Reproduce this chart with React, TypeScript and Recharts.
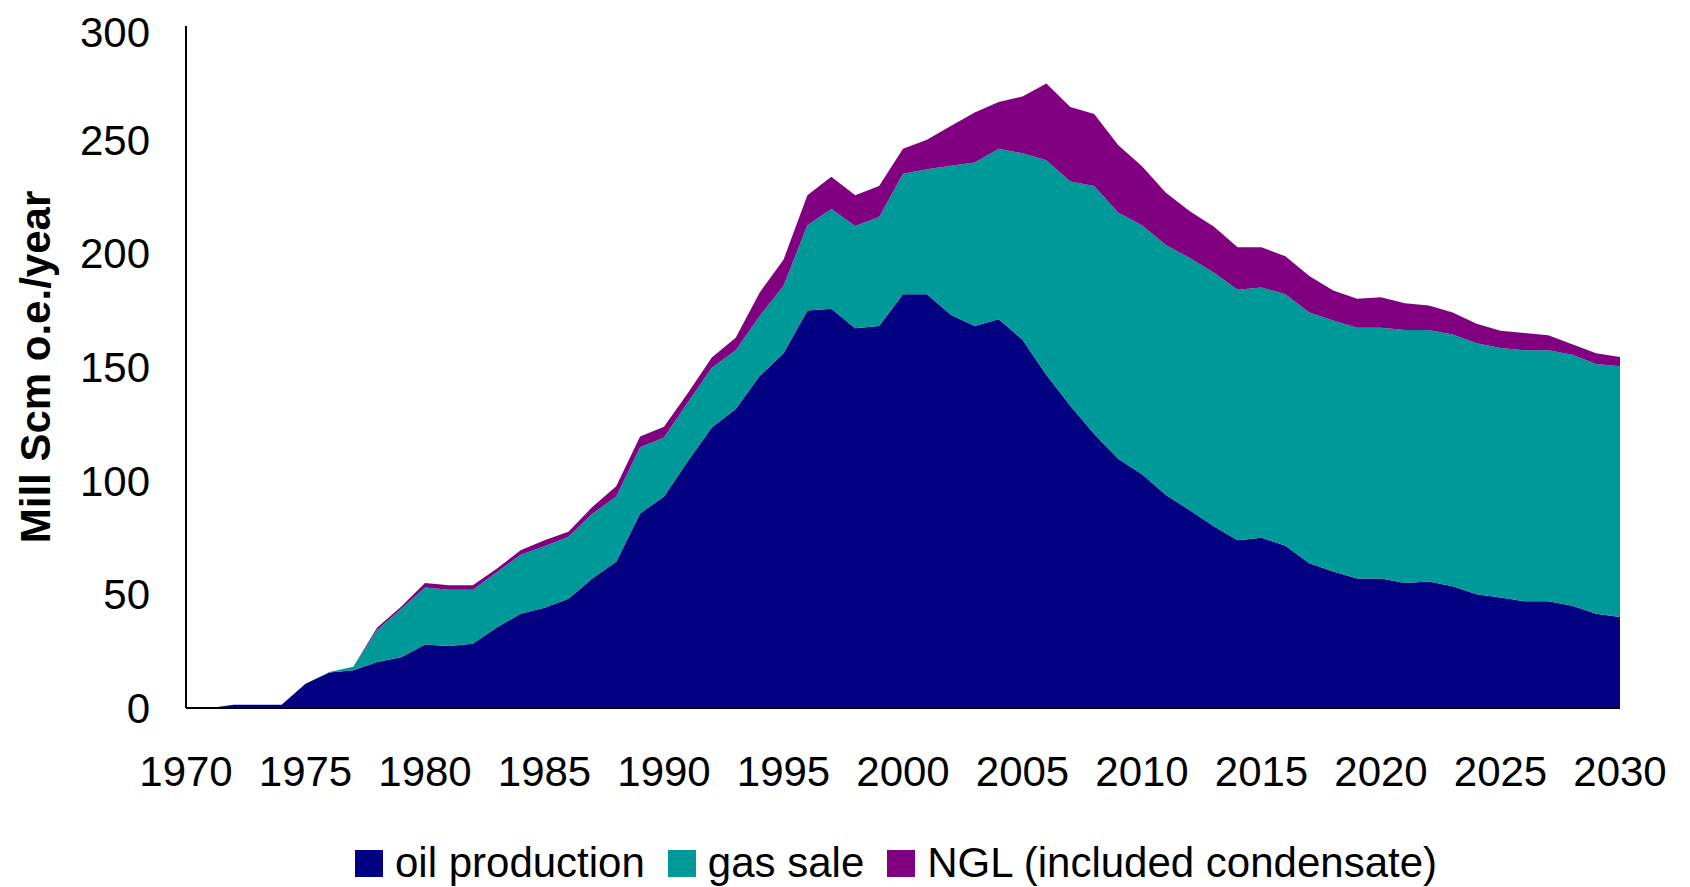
import { AreaChart, Area, XAxis, YAxis, Legend } from "recharts";

const years = [
  1970, 1971, 1972, 1973, 1974, 1975, 1976, 1977, 1978, 1979,
  1980, 1981, 1982, 1983, 1984, 1985, 1986, 1987, 1988, 1989,
  1990, 1991, 1992, 1993, 1994, 1995, 1996, 1997, 1998, 1999,
  2000, 2001, 2002, 2003, 2004, 2005, 2006, 2007, 2008, 2009,
  2010, 2011, 2012, 2013, 2014, 2015, 2016, 2017, 2018, 2019,
  2020, 2021, 2022, 2023, 2024, 2025, 2026, 2027, 2028, 2029, 2030,
];

const oilProduction = [
  0, 0, 1.4, 1.4, 1.4, 10.7, 15.6, 16.6, 20.2, 22.3,
  27.9, 27.3, 28.3, 35.4, 41.5, 44.1, 48.1, 57, 64.3, 85.6,
  93, 108.6, 123.4, 131.5, 146, 156, 174.8, 175.6, 167, 168,
  182, 182, 173, 168, 171, 162, 146.5, 133, 120.5, 109.6,
  102.8, 93.7, 87, 80, 73.8, 74.9, 71.4, 63.7, 60, 57,
  57, 55, 55.6, 53.6, 50, 48.6, 47, 47, 45, 41.5, 40,
];

const gasSale = [
  0, 0, 0, 0, 0, 0, 0.2, 1.6, 14.2, 21.2,
  25.1, 24.7, 23.7, 24.3, 25.9, 27.1, 27.2, 28.4, 28.7, 29.1,
  26, 25.9, 26.3, 25.9, 26.4, 29.7, 37.6, 43.9, 45, 48,
  53, 55, 65.5, 72, 75, 82, 94.5, 98.6, 109.1, 108.4,
  109.6, 110, 110.9, 111.6, 110.2, 110.1, 110.6, 110.3, 110.5, 110.3,
  110.3, 111.3, 110.7, 110.7, 110.4, 109.8, 110.4, 110.4, 110.4, 109.8, 110.3,
];

const ngl = [
  0, 0, 0, 0, 0, 0, 0, 0, 1, 1,
  2, 2, 2, 1.6, 2, 2.6, 2.2, 3, 4.5, 4.7,
  4.7, 4.1, 4.5, 5.5, 10.3, 11.5, 13.2, 14.2, 13.6, 13.6,
  11, 13, 17.5, 22, 20.6, 25, 33.7, 32.8, 31.7, 29.6,
  25.9, 22.9, 20.6, 20.2, 18.7, 17.7, 16.7, 16, 13.2, 12.7,
  13.4, 11.7, 10.7, 9.7, 8.6, 7.6, 7.6, 6.6, 4.6, 4.7, 4.1,
];

const yTicks = [0, 50, 100, 150, 200, 250, 300];

const seriesList = [
  { key: "oil", name: "oil production", color: "#000080" },
  { key: "gas", name: "gas sale", color: "#009999" },
  { key: "ngl", name: "NGL (included condensate)", color: "#800080" },
];

const data = years.map((year, i) => ({
  year,
  oil: oilProduction[i],
  gas: gasSale[i],
  ngl: ngl[i],
}));

const font = "'Liberation Sans', Arial, sans-serif";

const renderLegend = () => (
  <div
    style={{
      display: "flex",
      alignItems: "center",
      height: 44,
      paddingLeft: 347,
      fontFamily: font,
      fontSize: 42,
      lineHeight: 1,
      color: "#000",
    }}
  >
    {seriesList.map((s) => (
      <div key={s.key} style={{ display: "flex", alignItems: "center", marginRight: 23 }}>
        <span style={{ width: 28, height: 27, background: s.color, marginRight: 12, display: "inline-block" }} />
        <span>{s.name}</span>
      </div>
    ))}
  </div>
);

const renderYLabel = (props: any) => {
  const vb = props.viewBox;
  const cx = vb.x + 27;
  const cy = vb.y + vb.height / 2;
  return (
    <text
      x={cx}
      y={cy}
      transform={`rotate(-90, ${cx}, ${cy})`}
      textAnchor="middle"
      dominantBaseline="central"
      fontFamily={font}
      fontSize={42}
      fontWeight="bold"
      fill="#000"
    >
      Mill Scm o.e./year
    </text>
  );
};

export default function App() {
  return (
    <AreaChart
      width={1674}
      height={879}
      data={data}
      margin={{ top: 18, right: 62, left: 0, bottom: 2 }}
    >
      <XAxis
        dataKey="year"
        interval={4}
        height={133}
        tickLine={false}
        tickSize={0}
        tickMargin={48}
        axisLine={{ stroke: "#000", strokeWidth: 2 }}
        tick={{ fontSize: 42, fontFamily: font, fill: "#000" }}
      />
      <YAxis
        width={178}
        domain={[0, 300]}
        ticks={yTicks}
        tickLine={false}
        tickSize={0}
        tickMargin={36}
        axisLine={{ stroke: "#000", strokeWidth: 2 }}
        tick={{ fontSize: 42, fontFamily: font, fill: "#000" }}
        label={{ content: renderYLabel }}
      />
      <Legend verticalAlign="bottom" content={renderLegend} />
      {seriesList.map((s) => (
        <Area
          key={s.key}
          dataKey={s.key}
          name={s.name}
          stackId="1"
          type="linear"
          stroke="none"
          fill={s.color}
          fillOpacity={1}
          isAnimationActive={false}
        />
      ))}
    </AreaChart>
  );
}
